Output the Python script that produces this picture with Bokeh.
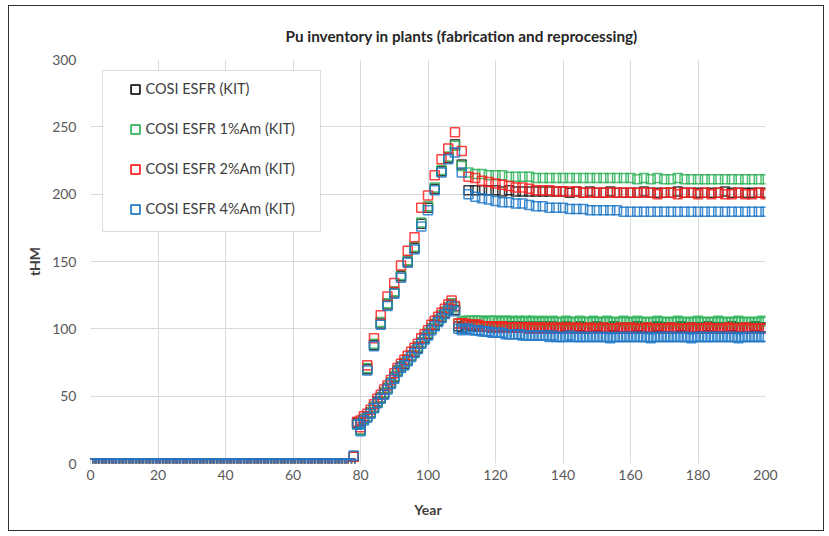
from bokeh.plotting import figure
from bokeh.models import (Range1d, FixedTicker, Legend, LegendItem, BoxAnnotation,
                          ColumnDataSource)
from bokeh.embed import file_html
from bokeh.resources import INLINE

TITLE = "Pu inventory in plants (fabrication and reprocessing)"
X_LABEL = "Year"
Y_LABEL = "tHM"
X_TICKS = [0, 20, 40, 60, 80, 100, 120, 140, 160, 180, 200]
Y_TICKS = [0, 50, 100, 150, 200, 250, 300]

SERIES = ["COSI ESFR (KIT)", "COSI ESFR 1%Am (KIT)", "COSI ESFR 2%Am (KIT)", "COSI ESFR 4%Am (KIT)"]
COLORS = ["#1a1a1a", "#2fb35a", "#ff2020", "#1f78c8"]

# lower branch: yearly points, years 0..200
YEARS_LOW = list(range(0, 201))
# upper branch: every two years, 80..200
YEARS_UP = list(range(80, 201, 2))

ZEROS = [0, 0, 0, 0, 0, 0, 0, 0, 0, 0, 0, 0, 0,
         0, 0, 0, 0, 0, 0, 0, 0, 0, 0, 0, 0, 0,
         0, 0, 0, 0, 0, 0, 0, 0, 0, 0, 0, 0, 0,
         0, 0, 0, 0, 0, 0, 0, 0, 0, 0, 0, 0, 0,
         0, 0, 0, 0, 0, 0, 0, 0, 0, 0, 0, 0, 0,
         0, 0, 0, 0, 0, 0, 0, 0, 0, 0, 0, 0, 0]

LOW_BASE = ZEROS + [
    5, 30, 25, 33, 35, 38, 42, 46, 49, 52, 56, 60,
    64, 69, 72, 74, 77, 80, 83, 86, 90, 93,
    96, 100, 103, 106, 109, 112, 115, 118, 114, 102,
    101, 103, 103, 102, 103, 102, 102, 102, 102, 101,
    102, 102, 101, 102, 102, 101, 102, 101, 102, 101,
    101, 102, 101, 101, 102, 101, 101, 102, 101, 101,
    101, 102, 101, 101, 101, 102, 101, 101, 101, 101,
    102, 101, 101, 101, 101, 102, 101, 101, 101, 101,
    101, 101, 102, 101, 101, 101, 101, 101, 102, 101,
    101, 101, 101, 101, 101, 102, 101, 101, 101, 101,
    101, 101, 101, 102, 101, 101, 101, 101, 101, 101,
    102, 101, 101, 101, 101, 101, 101, 102, 101, 101,
    101]
LOW_AM1 = ZEROS + [
    5, 29, 25, 33, 35, 38, 42, 45, 49, 53, 56, 60,
    65, 69, 72, 75, 77, 80, 84, 87, 90, 94,
    97, 100, 104, 107, 110, 113, 116, 119, 116, 104,
    105, 106, 106, 106, 106, 106, 106, 105, 106, 106,
    106, 105, 106, 106, 105, 106, 105, 106, 105, 106,
    105, 106, 105, 105, 106, 105, 105, 106, 105, 105,
    105, 106, 105, 105, 105, 106, 105, 105, 105, 106,
    105, 105, 105, 106, 105, 105, 105, 105, 106, 105,
    105, 105, 106, 105, 105, 105, 105, 105, 106, 105,
    105, 105, 105, 105, 106, 105, 105, 105, 105, 105,
    106, 105, 105, 105, 105, 105, 106, 105, 105, 105,
    105, 105, 106, 105, 105, 105, 105, 105, 105, 106,
    105]
LOW_AM2 = ZEROS + [
    5, 31, 27, 35, 37, 40, 44, 48, 51, 55, 58, 62,
    67, 71, 74, 77, 80, 83, 86, 89, 93, 96,
    99, 103, 106, 109, 112, 115, 118, 121, 117, 104,
    104, 104, 103, 103, 103, 103, 102, 102, 102, 102,
    102, 101, 102, 101, 101, 101, 101, 101, 101, 101,
    100, 101, 100, 101, 100, 101, 100, 100, 101, 100,
    100, 101, 100, 100, 101, 100, 100, 100, 101, 100,
    100, 100, 101, 100, 100, 100, 100, 101, 100, 100,
    101, 100, 100, 100, 100, 101, 100, 100, 100, 100,
    100, 100, 101, 100, 100, 100, 100, 100, 101, 100,
    100, 100, 100, 101, 100, 100, 100, 100, 100, 101,
    100, 100, 100, 100, 101, 100, 100, 100, 100, 100,
    100]
LOW_AM4 = ZEROS + [
    6, 29, 24, 32, 34, 37, 41, 45, 48, 51, 55, 59,
    63, 68, 71, 73, 76, 79, 82, 85, 89, 92,
    95, 99, 102, 105, 108, 111, 114, 117, 113, 100,
    99, 100, 100, 99, 99, 99, 98, 98, 98, 97,
    97, 97, 97, 96, 96, 96, 96, 96, 95, 95,
    95, 95, 95, 95, 95, 95, 94, 95, 94, 94,
    94, 94, 95, 94, 94, 94, 94, 94, 94, 94,
    94, 94, 94, 94, 93, 94, 94, 94, 94, 94,
    94, 94, 94, 94, 94, 94, 93, 94, 94, 94,
    94, 94, 94, 94, 94, 94, 94, 94, 93, 94,
    94, 94, 94, 94, 94, 94, 94, 94, 94, 94,
    94, 94, 93, 94, 94, 94, 94, 94, 94, 94,
    94]

UP_BASE = [30, 70, 88, 104, 118, 127, 139, 150, 160, 178,
           190, 204, 217, 227, 237, 222, 203, 203, 203, 203,
           203, 202, 203, 202, 202, 202, 202, 202, 202, 202,
           202, 201, 202, 201, 202, 201, 201, 202, 201, 201,
           201, 201, 202, 201, 201, 201, 201, 202, 201, 201,
           201, 201, 201, 201, 202, 201, 201, 201, 201, 201,
           201]
UP_AM1 = [30, 71, 89, 105, 119, 128, 140, 151, 161, 179,
          191, 205, 218, 228, 236, 221, 216, 215, 215, 214,
          214, 214, 213, 213, 213, 213, 212, 212, 212, 212,
          212, 212, 212, 212, 212, 212, 212, 212, 212, 212,
          212, 211, 212, 211, 212, 211, 211, 212, 211, 211,
          211, 211, 211, 211, 211, 211, 211, 211, 211, 211,
          211]
UP_AM2 = [32, 73, 93, 110, 124, 134, 147, 158, 168, 190,
          199, 214, 226, 234, 246, 232, 213, 212, 210, 209,
          208, 207, 206, 205, 205, 204, 203, 203, 203, 202,
          202, 202, 202, 201, 201, 201, 201, 201, 201, 201,
          201, 201, 201, 201, 200, 201, 201, 200, 201, 201,
          200, 201, 200, 201, 200, 200, 201, 200, 200, 201,
          200]
UP_AM4 = [29, 69, 87, 103, 117, 126, 138, 149, 159, 176,
          188, 203, 216, 226, 231, 216, 200, 198, 197, 196,
          195, 194, 194, 193, 193, 192, 191, 191, 190, 190,
          190, 189, 189, 189, 188, 188, 188, 188, 188, 187,
          187, 187, 187, 187, 187, 187, 187, 187, 187, 187,
          187, 187, 187, 187, 187, 187, 187, 187, 187, 187,
          187]

LOWS = [LOW_BASE, LOW_AM1, LOW_AM2, LOW_AM4]
UPS = [UP_BASE, UP_AM1, UP_AM2, UP_AM4]

FONT = "Lato"

p = figure(width=816, height=526, output_backend="svg", toolbar_location=None,
           x_range=Range1d(0, 200), y_range=Range1d(0, 300),
           min_border_left=81, min_border_right=60, min_border_top=53, min_border_bottom=69)
p.styles = {"border": "1.5px solid #303030", "margin-left": "7.5px", "margin-top": "4.5px"}
p.outline_line_color = None
p.background_fill_color = "white"
p.border_fill_color = "white"

p.title.text = TITLE
p.title.align = "left"
p.title.offset = 195
p.title.text_font = FONT
p.title.text_font_size = "15.3px"
p.title.text_font_style = "bold"
p.title.text_color = "#262626"
p.title.standoff = 29

p.xaxis.ticker = FixedTicker(ticks=X_TICKS)
p.yaxis.ticker = FixedTicker(ticks=Y_TICKS)
for ax in (p.xaxis, p.yaxis):
    ax.axis_line_color = None
    ax.major_tick_line_color = None
    ax.minor_tick_line_color = None
    ax.major_tick_out = 0
    ax.major_tick_in = 0
    ax.major_label_text_font = FONT
    ax.major_label_text_font_size = "14px"
    ax.major_label_text_color = "#595959"
    ax.axis_label_text_font = FONT
    ax.axis_label_text_font_size = "14px"
    ax.axis_label_text_font_style = "bold"
    ax.axis_label_text_color = "#404040"
p.xaxis.axis_label = X_LABEL
p.yaxis.axis_label = Y_LABEL
p.xaxis.major_label_standoff = 6
p.xaxis.axis_label_standoff = 18
p.yaxis.major_label_standoff = 14
p.yaxis.axis_label_standoff = 6

p.xgrid.grid_line_color = "#d9d9d9"
p.ygrid.grid_line_color = "#d9d9d9"
p.xgrid.grid_line_width = 1
p.ygrid.grid_line_width = 1

items = []
for name, color, low, up in zip(SERIES, COLORS, LOWS, UPS):
    src_low = ColumnDataSource(dict(x=YEARS_LOW, y=low))
    src_up = ColumnDataSource(dict(x=YEARS_UP, y=up))
    r1 = p.scatter("x", "y", source=src_low, marker="square", size=9,
                   fill_alpha=0, line_color=color, line_width=1.5, line_alpha=0.85)
    r2 = p.scatter("x", "y", source=src_up, marker="square", size=9,
                   fill_alpha=0, line_color=color, line_width=1.5, line_alpha=0.85)
    items.append(LegendItem(label=name, renderers=[r1, r2]))

# legend box
box = BoxAnnotation(left=12, right=230, top=393, bottom=232,
                    left_units="screen", right_units="screen",
                    top_units="screen", bottom_units="screen",
                    fill_color="white", fill_alpha=1, line_color="#8c8c8c", line_width=1)
p.add_layout(box)

legend = Legend(items=items, location=(34, 243), padding=0, spacing=18,
                glyph_width=22, glyph_height=22, label_height=22, label_standoff=0,
                margin=0, border_line_alpha=0, background_fill_alpha=0,
                label_text_font=FONT, label_text_font_size="14.5px",
                label_text_color="#404040")
p.add_layout(legend)

open("out.html", "w").write(file_html(p, INLINE))
